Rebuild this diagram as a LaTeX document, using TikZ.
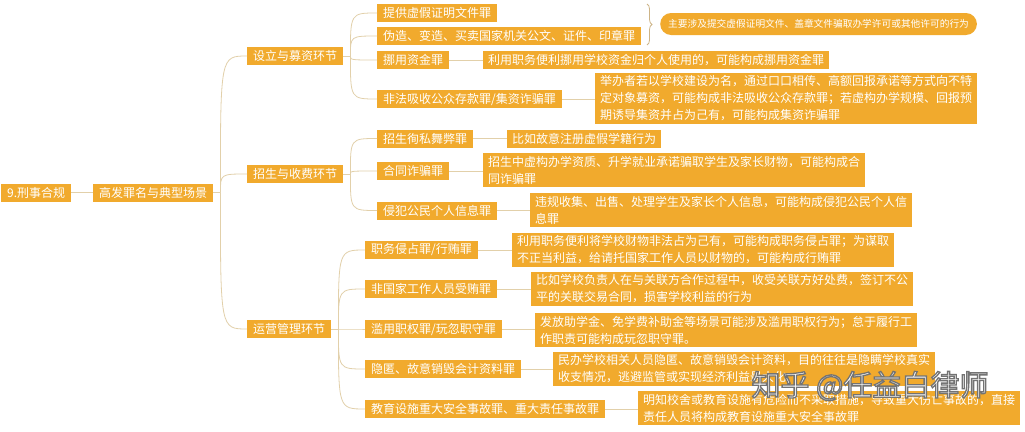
\documentclass[tikz,border=0pt]{standalone}
\usepackage{fontspec}
\newfontfamily\cjk{Noto Sans CJK SC}
\usetikzlibrary{decorations.pathreplacing}
\definecolor{boxor}{RGB}{241,170,45}
\definecolor{lnk}{RGB}{226,208,170}
\definecolor{brc}{RGB}{205,180,135}
\begin{document}
\begin{tikzpicture}[x=1pt,y=-1pt,
  box/.style={fill=boxor, text=white, font=\cjk\fontsize{12}{17}\selectfont, inner xsep=6pt, inner ysep=3.2pt, minimum height=18pt, anchor=west, align=left},
  desc/.style={box, inner xsep=5pt},
  pill/.style={fill=boxor, text=white, font=\cjk\fontsize{9.7}{12}\selectfont, rounded corners=11pt, minimum height=22pt, inner xsep=8pt, anchor=west},
  lnkline/.style={draw=lnk, line width=0.8pt},
  wm/.style={font=\cjk\fontsize{29}{30}\selectfont, inner sep=0pt}
]
\fill[white] (0,0) rectangle (1025,431);
\useasboundingbox (0,0) rectangle (1025,431);

% level 0-1
\node[box] (root) at (1,192.5) {9.刑事合规};
\node[box] (hf) at (93,192.5) {高发罪名与典型场景};
% level 2
\node[box] (sl) at (247,56) {设立与募资环节};
\node[box] (zs) at (247,174) {招生与收费环节};
\node[box] (yy) at (247,329) {运营管理环节};

% group 1
\node[box] (a1) at (377,13) {提供虚假证明文件罪};
\node[box] (a2) at (377,36) {伪造、变造、买卖国家机关公文、证件、印章罪};
\node[box] (a3) at (377,60) {挪用资金罪};
\node[box] (a4) at (377,99) {非法吸收公众存款罪/集资诈骗罪};
\node[desc] (d3) at (483,60) {利用职务便利挪用学校资金归个人使用的，可能构成挪用资金罪};
\node[desc] (d4) at (595,98.5) {举办者若以学校建设为名，通过口口相传、高额回报承诺等方式向不特\\定对象募资，可能构成非法吸收公众存款罪；若虚构办学规模、回报预\\期诱导集资并占为己有，可能构成集资诈骗罪};
\node[pill] (p) at (660,24) {主要涉及提交虚假证明文件、盖章文件骗取办学许可或其他许可的行为};
\coordinate (bt) at (647,4);
\coordinate (bb) at (647,45);
\draw[brc, line width=0.8pt, decorate, decoration={brace, amplitude=5pt}] (bt) -- (bb);

% group 2
\node[box] (b1) at (377,138.5) {招生徇私舞弊罪};
\node[box] (b2) at (377,171) {合同诈骗罪};
\node[box] (b3) at (377,210.5) {侵犯公民个人信息罪};
\node[desc] (e1) at (507,138.5) {比如故意注册虚假学籍行为};
\node[desc] (e2) at (483,170) {招生中虚构办学资质、升学就业承诺骗取学生及家长财物，可能构成合\\同诈骗罪};
\node[desc] (e3) at (530,210) {违规收集、出售、处理学生及家长个人信息，可能构成侵犯公民个人信\\息罪};

% group 3
\node[box] (c1) at (365,250) {职务侵占罪/行贿罪};
\node[box] (c2) at (365,289) {非国家工作人员受贿罪};
\node[box] (c3) at (365,329) {滥用职权罪/玩忽职守罪};
\node[box] (c4) at (365,369) {隐匿、故意销毁会计资料罪};
\node[box] (c5) at (365,409) {教育设施重大安全事故罪、重大责任事故罪};
\node[desc] (f1) at (512,250) {利用职务便利将学校财物非法占为己有，可能构成职务侵占罪；为谋取\\不正当利益，给请托国家工作人员以财物的，可能构成行贿罪};
\node[desc] (f2) at (531,289) {比如学校负责人在与关联方合作过程中，收受关联方好处费，签订不公\\平的关联交易合同，损害学校利益的行为};
\node[desc] (f3) at (535,330) {发放助学金、免学费补助金等场景可能涉及滥用职权行为；怠于履行工\\作职责可能构成玩忽职守罪。};
\node[desc] (f4) at (553,369) {民办学校相关人员隐匿、故意销毁会计资料，目的往往是隐瞒学校真实\\收支情况，逃避监管或实现经济利益最大化};
\node[desc] (f5) at (638,408) {明知校舍或教育设施有危险而不采取措施，导致重大伤亡事故的，直接\\责任人员将构成教育设施重大安全事故罪};

% connectors
\draw[lnkline] (root.east) -- (hf.west);
\coordinate (j0) at ([xshift=7pt]hf.east);
\draw[lnkline] (hf.east) -- (j0);
\foreach \c in {sl,zs,yy} \draw[lnkline] (j0) .. controls (j0 |- \c.west) .. (\c.west);
\coordinate (j1) at ([xshift=7pt]sl.east);
\draw[lnkline] (sl.east) -- (j1);
\foreach \c in {a1,a2,a3,a4} \draw[lnkline] (j1) .. controls (j1 |- \c.west) .. (\c.west);
\coordinate (j2) at ([xshift=7pt]zs.east);
\draw[lnkline] (zs.east) -- (j2);
\foreach \c in {b1,b2,b3} \draw[lnkline] (j2) .. controls (j2 |- \c.west) .. (\c.west);
\coordinate (j3) at ([xshift=7pt]yy.east);
\draw[lnkline] (yy.east) -- (j3);
\foreach \c in {c1,c2,c3,c4,c5} \draw[lnkline] (j3) .. controls (j3 |- \c.west) .. (\c.west);

\draw[lnkline] (a3.east) -- (a3.east -| d3.west);
\draw[lnkline] (a4.east) -- (a4.east -| d4.west);
\draw[lnkline] (b1.east) -- (b1.east -| e1.west);
\draw[lnkline] (b2.east) -- (b2.east -| e2.west);
\draw[lnkline] (b3.east) -- (b3.east -| e3.west);
\draw[lnkline] (c1.east) -- (c1.east -| f1.west);
\draw[lnkline] (c2.east) -- (c2.east -| f2.west);
\draw[lnkline] (c3.east) -- (c3.east -| f3.west);
\draw[lnkline] (c4.east) -- (c4.east -| f4.west);
\draw[lnkline] (c5.east) -- (c5.east -| f5.west);

% watermark: white text with grey outline
\node[wm, text=white] (wmk) at (870,386) {\special{pdf:literal 0.45 G 1.3 w 2 Tr}知乎 @任益白律师\special{pdf:literal 0 Tr}};
\end{tikzpicture}
\end{document}
